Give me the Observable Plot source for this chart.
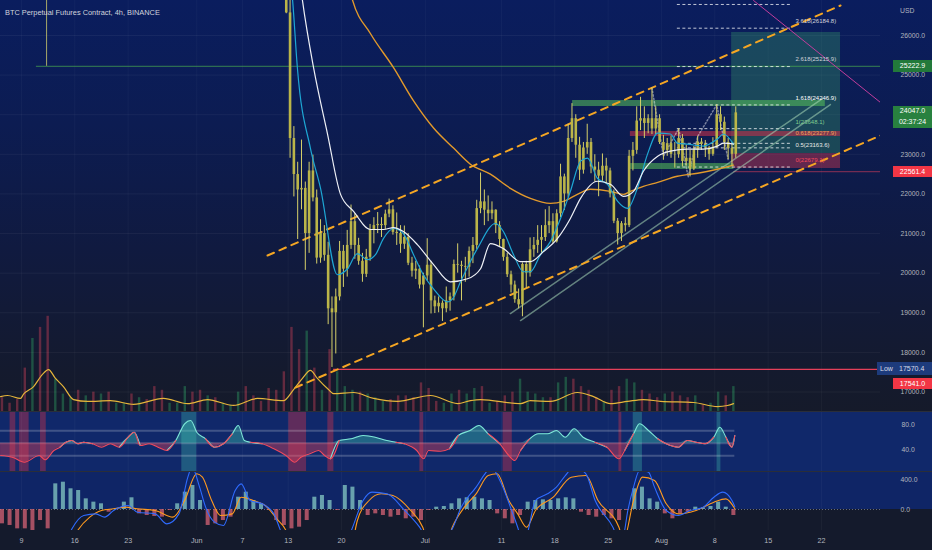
<!DOCTYPE html>
<html>
<head>
<meta charset="utf-8">
<script src="https://cdn.jsdelivr.net/npm/d3@7"></script>
<script src="https://cdn.jsdelivr.net/npm/@observablehq/plot@0.6"></script>
<style>
  body { margin: 0; background: #131722; }
  #chart { position: relative; width: 932px; height: 550px; overflow: hidden; background: #131722;
    font-family: "Liberation Sans", Arial, sans-serif; }
</style>
</head>
<body>
<div id="chart"></div>
<script>
// time axis
const T = s => new Date(`2022-${s}:00Z`);
const xDomain = [new Date("2022-05-06T05:51Z"), new Date("2022-08-29T17:53Z")];
const tickDates = ["05-09T00","05-16T00","05-23T00","06-01T00","06-07T00","06-13T00","06-20T00","07-01T00","07-11T00","07-18T00","07-25T00","08-01T00","08-08T00","08-15T00","08-22T00"];
const tickLabels = ["9","16","23","Jun","7","13","20","Jul","11","18","25","Aug","8","15","22"];
const priceTicks = [17000, 18000, 19000, 20000, 21000, 22000, 23000, 24000, 25000, 26000];

// 12h candles from 2022-06-12 12:00 UTC
const candleStart = new Date("2022-06-12T12:00Z");
const firstOpen = 27400;
const candleHigh = [27700, 26900,23700, 22800,23360, 22300,22800, 22980,22100, 21350,21200, 20780,19400, 19600,20800,
  20700,21080, 21720,21500, 20880,20500, 20600,21230, 21400,21530, 21400,21590, 21870,21700, 21520,21200, 21190,21000,
  20400,20300, 20180,20000,
  20870,20300, 19420,19400, 19300,19650, 19500,20330, 20740,20300, 20400,20660, 20900,21840, 22530,22100, 21950,21800,
  21600,21300, 20860,20500, 20050,19800, 19600,20260, 20300,20890, 20900,21200, 21200,21600, 21680,21500, 21600,22750,
  22500,23760, 24280,24000, 23430,23300, 23760,23400, 22990,22800, 23010,22900, 22650,22100, 21380,21300, 21400,23100,
  23300,24200, 24440,24200, 24000,24680, 24200,24000,
  23480,23400, 23460,23300, 23650,23500, 23230,23100, 23200,23450, 23400,23350, 23200,23420, 24250,24200, 23940,23400,
  23300,24200];
const candleLow = [26550, 22900,21925, 20850,21600, 20070,20500, 21800,20230, 20250,20300, 18700,17620, 17960,19300,
  19640,19900, 20600,20350, 20200,19770, 19890,20300, 20740,21000, 20900,21100, 21400,20960, 20700,20500, 20600,20190,
  19900,19840, 19600,18620,
  19800,18970, 18980,19000, 18780,19000, 19040,19300, 20000,19300, 19770,19900, 20240,20600, 21500,21200, 21300,21350,
  21000,20650, 20300,19890, 19500,19240, 19100,18900, 19620,19900, 20400,20500, 20480,20800, 21000,20750, 20760,21400,
  21580,21900, 23300,22900, 22340,22500, 23000,22510, 22300,21930, 22300,22250, 21900,21250, 20710,20800, 21040,21150,
  22580,23000, 23600,23400, 23520,23500, 23500,23250,
  22850,22950, 22900,22650, 22900,22680, 22700,22430, 22590,22900, 23100,22920, 22850,22950, 23150,23600, 23100,22870,
  22700,22900];
const candleClose = [26570, 23400,22490, 22100,22140, 21000,22580, 21900,20380, 21000,20450, 19100,19000, 19400,20550,
  20100,20700, 21300,20700, 20300,19970, 20400,21090, 21200,21230, 21200,21490, 21600,21030, 21000,20730, 20900,20250,
  20050,20100, 19700,19930,
  20200,19300, 19150,19240, 19100,19300, 19400,20220, 20200,20170, 20150,20550, 20700,21630, 21800,21590, 21500,21590,
  21200,20850, 20400,19960, 19700,19330, 19200,20220, 20000,20590, 20700,20830, 20900,21200, 21300,20790, 21500,22430,
  22000,23400, 23900,23230, 22600,23160, 23300,22680, 22600,22450, 22700,22580, 22000,21310, 21000,21250, 21200,22950,
  23100,23840, 23900,23780, 23900,23640, 23900,23300,
  23100,23270, 23000,22990, 23400,22820, 22900,22630, 23100,23310, 23250,23170, 23000,23180, 24000,23810, 23300,23150,
  23000,24047];

// moving averages
const whiteT = ["06-14T05","06-14T21","06-16T08","06-18T04","06-19T21","06-21T14","06-23T19","06-25T12","06-26T20","06-28T03",
  "06-29T23","07-02T02","07-04T07","07-06T13","07-08T06","07-09T13","07-11T06","07-13T12","07-14T19","07-16T12","07-18T08",
  "07-20T01","07-21T09","07-23T14","07-25T07","07-27T00","07-28T08","07-29T15","07-31T12","08-02T04","08-04T10","08-06T12",
  "08-08T08","08-09T03","08-10T11"];
const whiteV = [27900, 26888, 25188, 23513, 21990, 21558, 21102, 21102, 21152, 21051,
  20721, 20214, 19782, 19858, 20112, 20746, 20620, 20290, 20290, 20543, 20873,
  21381, 21888, 22320, 22244, 21939, 22066, 22574, 22954, 23081, 23132, 23132,
  23208, 23284, 23259];
const cyanT = ["06-13T01","06-13T14","06-14T05","06-15T22","06-17T06","06-19T11","06-20T19","06-22T02","06-23T10","06-24T11",
  "06-25T12","06-26T20","06-28T03","06-29T11","06-30T18","07-02T02","07-03T22","07-04T14","07-05T15","07-07T20","07-10T05",
  "07-11T06","07-12T14","07-13T21","07-14T19","07-16T03","07-17T10","07-18T18","07-20T01","07-21T09","07-22T07","07-23T14",
  "07-24T22","07-26T06","07-27T13","07-28T20","07-30T04","07-31T12","08-02T04","08-03T02","08-04T10","08-06T12","08-08T08",
  "08-09T03","08-10T11"];
const cyanV = [27900, 26888, 25188, 23157, 22142, 19960, 20112, 20493, 20340, 20467,
  20873, 21127, 21000, 20467, 19960, 19604, 19274, 19350, 19782, 20620, 21254,
  21051, 20467, 20036, 20036, 20467, 20797, 21381, 22066, 22828, 22904, 22396,
  22244, 21812, 21635, 22142, 23005, 23538, 23513, 23284, 23259, 23208, 23386,
  23513, 23259];
const orangeT = ["06-20T12","06-21T11","06-23T19","06-26T20","06-29T11","07-02T02","07-04T17","07-06T22","07-09T13","07-12T04",
  "07-14T19","07-17T10","07-19T03","07-20T23","07-22T16","07-25T07","07-27T00","07-27T22","07-29T15","07-31T12","08-03T02",
  "08-05T18","08-08T08","08-10T11"];
const orangeV = [27650, 26888, 26051, 25188, 24350, 23665, 23157, 22751, 22498, 22142,
  21888, 21762, 21812, 21990, 22117, 22066, 21990, 22066, 22193, 22294, 22447,
  22523, 22624, 22726];

// drawings
const upperChannel = {t: ["06-10T07", "08-24T12"], p: [20445, 26758]};
const lowerChannel = {t: ["06-13T23", "08-29T18"], p: [17112, 23475]};
const magentaLine = {t: ["08-13T02", "08-29T18"], p: [26884, 24308]};
const trendA = {t: ["07-12T04", "08-22T03"], p: [18981, 24409]};
const trendB = {t: ["07-13T12", "08-23T04"], p: [18804, 24258]};
const zigzagT = ["07-30T18", "08-01T06", "08-03T06", "08-04T12", "08-05T18", "08-08T06", "08-09T18"];
const zigzagP = [24680, 22950, 23650, 22430, 23450, 24250, 22870];
const fibPrices = [22679.1, 23163.6, 23277.9, 23648.1, 24246.9, 25215.9, 26184.8, 26783.8];
const fibLabels = ["0(22679.1)", "0.5(23163.6)", "0.618(23277.9)", "1(23648.1)", "1.618(24246.9)", "2.618(25215.9)", "3.618(26184.8)", ""];
const fibColors = ["#f2495c", "#e8e8e8", "#f0a35a", "#7fcf8f", "#ffffff", "#d0d3dc", "#d0d3dc", "#d0d3dc"];
const lowPrice = 17570.4;
const hLine = 25222.9;
const stopLine = 22561.4;
const lastPrice = 24047.0;
const countdown = "02:37:24";
const zoneT1 = ["07-20T08", "07-27T22", "07-27T22"];
const zoneT2 = ["08-22T12", "08-24T12", "08-10T12"];
const zoneLow = [24207, 23450, 22617];
const zoneHigh = [24359, 23576, 22768];
const zoneKind = ["green", "red", "green"];
const posBox = {t1: "08-10T05", t2: "08-24T12", target: 26076, entry: 23020, stop: 22642};

// volume (daily, from May 6) and its average
const volStart = new Date("2022-05-06T00:00Z");
const volume = [40,25,35,120,200,230,260,90,50,40,60,45,55,50,55,25,25,50,40,35,70,60,25,25,70,55,
  60,45,40,25,20,55,70,45,30,65,60,110,230,170,220,120,60,170,110,70,60,55,50,40,30,35,45,45,40,80,
  65,30,25,50,60,50,65,70,25,30,45,55,90,55,50,40,40,80,95,90,70,60,40,30,60,70,90,80,60,50,40,
  50,55,45,40,45,20,25,55,45,70];
const volDir = ["d","d","d","d","u","d","d","u","u","u","d","u","d","u","d","u","u","d","u","d","d","d","u","u","u","d",
  "d","u","d","u","u","u","d","d","d","d","d","d","d","d","u","d","u","d","u","u","u","d","u","u","u","d","d","d","d","d",
  "d","d","u","u","d","u","u","d","u","d","d","d","u","u","u","u","d","u","u","d","d","d","d","u","d","d","u","u","d","d","d",
  "u","d","d","d","u","d","u","u","d","u"];
const volMaT = ["05-06T06","05-07T04","05-08T21","05-09T06","05-10T14","05-11T18","05-12T13","05-13T11","05-14T12","05-15T20",
  "05-17T16","05-20T16","05-23T17","05-27T15","05-30T19","06-02T10","06-05T20","06-08T23","06-12T09","06-13T17","06-14T21",
  "06-15T22","06-16T20","06-18T07","06-18T23","06-21T14","06-24T05","06-27T08","07-01T16","07-05T06","07-06T22","07-08T06",
  "07-13T12","07-14T19","07-17T10","07-20T23","07-23T02","07-25T07","07-27T13","07-29T15","07-31T21","08-05T05","08-08T08",
  "08-09T16","08-10T11"];
const volMaV = [43,46,38,49,70,103,116,92,70,35,30,32,22,38,24,35,19,38,32,62,92,114,92,62,51,54,38,30,46,24,32,35,
  24,32,30,54,43,24,30,35,30,27,16,19,24];

// RSI pane
const rsiT = ["05-06T06","05-07T19","05-09T09","05-11T08","05-12T02","05-13T06","05-14T01","05-14T20","05-15T15","05-16T09",
  "05-17T04","05-18T08","05-19T12","05-20T16","05-21T20","05-23T00","05-23T19","05-24T14","05-25T18","05-26T22","05-28T02",
  "05-29T06","05-30T10","05-31T05","06-01T00","06-02T04","06-03T08","06-04T12","06-05T16","06-06T11","06-07T06","06-08T00",
  "06-09T14","06-11T03","06-12T17","06-13T21","06-14T16","06-15T20","06-17T00","06-17T19","06-18T13","06-19T17","06-21T07",
  "06-22T20","06-24T10","06-25T23","06-27T03","06-28T07","06-29T21","06-30T19","07-01T10","07-03T00","07-04T04","07-05T08",
  "07-06T21","07-08T01","07-09T06","07-10T19","07-11T23","07-12T18","07-13T12","07-14T17","07-15T21","07-17T01","07-18T05",
  "07-19T09","07-20T13","07-21T17","07-23T06","07-24T20","07-26T10","07-27T04","07-28T08","07-29T03","07-30T07","07-31T12",
  "08-01T15","08-03T05","08-04T09","08-05T13","08-06T17","08-07T21","08-08T16","08-09T11","08-10T06","08-10T15"];
const rsiV = [30.4,27.7,19.7,30.4,23.5,38.4,43.7,51.7,54.4,49.1,51.7,49.1,43.7,49.1,43.7,59.7,67.7,46.4,49.1,43.7,38.4,
  54.4,81.1,86.4,67.7,57.1,43.7,49.1,65.1,78.4,54.4,51.7,49.1,41.1,30.4,19.7,27.7,33.1,38.4,30.4,25.1,54.4,57.1,
  62.4,59.7,54.4,51.7,49.1,38.4,25.1,38.4,37.3,41.1,62.4,70.4,78.4,65.1,49.1,30.4,22.4,38.4,57.1,65.1,65.1,70.4,
  59.7,73.1,59.7,51.7,43.7,25.1,38.4,65.1,81.1,70.4,57.1,49.1,43.7,54.4,51.7,49.1,59.7,75.7,59.7,43.7,62.4];
const rsiBandT1 = ["05-07T12","05-08T18","05-11T12","05-30T01","06-13T02","06-18T05","06-30T07","07-11T05","07-26T10","07-28T07","08-08T07"];
const rsiBandT2 = ["05-08T06","05-10T00","05-12T06","06-01T00","06-15T10","06-19T00","06-30T19","07-12T10","07-26T19","07-29T12","08-08T19"];
const rsiBandKind = ["red","red","red","teal","red","red","red","red","red","teal","teal"];
const rsiLevels = [70, 50, 30];

// MACD pane
const histStart = new Date("2022-05-06T00:00Z");
const macdHist = [-191,-213,-258,-258,-280,-147,-258,342,364,276,253,142,98,76,-36,9,98,156,-58,-80,-93,-102,-13,76,231,320,
  120,-213,-191,-147,-102,164,231,120,76,-13,-147,-213,-258,-236,-147,164,187,120,-13,320,298,120,-80,-58,-80,-102,-80,-124,-102,-147,
  -13,31,40,76,142,156,164,142,120,-58,-124,-191,-80,98,120,129,120,142,156,142,-36,-80,-102,-80,-124,-147,-13,276,298,142,98,
  -58,-124,-58,-36,31,22,40,98,31,-80];
const macdT = ["05-14T12","05-15T15","05-17T04","05-18T18","05-19T22","05-21T02","05-23T00","05-24T05","05-26T13","05-28T02",
  "05-29T16","05-30T20","05-31T09","06-01T09","06-02T04","06-03T08","06-04T12","06-06T01","06-06T20","06-08T00","06-09T14",
  "06-11T03","06-11T22","06-12T17","06-15T00","06-19T00","06-21T07","06-22T20","06-24T00","06-25T23","06-28T07","06-30T06",
  "07-01T10","07-03T00","07-04T13","07-05T17","07-07T16","07-08T20","07-09T15","07-10T19","07-12T08","07-13T03","07-13T17",
  "07-14T07","07-15T11","07-17T01","07-18T05","07-19T09","07-20T13","07-22T02","07-23T07","07-25T15","07-26T10","07-27T00",
  "07-27T14","07-28T08","07-29T03","07-30T07","07-31T02","08-01T15","08-03T05","08-04T18","08-06T08","08-07T21","08-09T01",
  "08-10T06","08-10T15"];
const macdV = [-520,-258,-80,-58,-102,-13,53,-36,-58,-191,-58,431,564,298,31,-169,-213,253,342,120,76,
  -58,-258,-458,-900,-700,-280,120,231,209,-13,-236,-413,-413,-258,31,298,476,564,387,-13,-236,-413,
  -350,120,209,298,453,564,476,120,-236,-413,-350,-13,298,520,498,298,-13,-80,-13,22,164,231,120,40];
const signalT = ["05-15T05","05-16T09","05-17T23","05-19T12","05-21T02","05-22T15","05-24T05","05-26T13","05-28T21","05-30T10",
  "06-01T00","06-01T18","06-02T23","06-04T03","06-05T16","06-06T20","06-08T10","06-10T00","06-11T12","06-12T17","06-13T12",
  "06-18T00","06-21T07","06-22T02","06-23T15","06-25T05","06-26T18","06-29T02","06-30T16","07-01T10","07-03T18","07-04T13",
  "07-06T03","07-07T16","07-09T06","07-10T10","07-11T23","07-13T03","07-14T07","07-15T11","07-17T19","07-20T04","07-22T02",
  "07-23T16","07-26T10","07-27T00","07-28T08","07-29T12","07-31T02","08-01T15","08-03T05","08-05T13","08-07T21","08-09T11",
  "08-10T15"];
const signalV = [-502,-280,-102,-13,9,31,9,-13,-102,120,476,431,120,-80,-58,164,120,53,-124,-280,-502,
  -900,-502,-147,120,209,187,-13,-236,-458,-458,-236,31,209,453,476,120,-58,-236,-13,164,431,453,
  120,-236,-413,120,431,387,76,-58,-13,98,142,9];

// ---------- layout ----------
const W = 932, MR = 52, FONT = "Liberation Sans, Arial, sans-serif";
const chart = document.getElementById("chart");
const HOUR = 3600e3, DAY = 24 * HOUR;
const tickTimes = tickDates.map(T);
const labelOf = new Map(tickTimes.map((t, i) => [+t, tickLabels[i]]));
const endT = T("08-10T15");
const fmt = d3.format(".1f");

function addDiv(css, html = "") {
  const d = document.createElement("div");
  d.style.cssText = "position:absolute;" + css;
  d.innerHTML = html;
  chart.appendChild(d);
  return d;
}
function addPlot(top, svg) {
  const wrap = addDiv(`left:0;top:${top}px;width:${W}px;`);
  wrap.appendChild(svg);
}
const baseStyle = {background: "transparent", color: "#b2b5be", fontFamily: FONT, overflow: "visible"};

// pane backgrounds
addDiv("left:0;top:0;width:932px;height:412px;background:linear-gradient(180deg,#0a1d5e 0%,#0c1c52 30%,#101a40 60%,#141a2e 90%,#151a2a 100%);");
addDiv("left:0;top:412px;width:932px;height:60px;background:#10286a;");
addDiv("left:0;top:472px;width:932px;height:37px;background:#0f2566;");
addDiv("left:0;top:509px;width:932px;height:41px;background:#141a2c;");

// data tables
const candles = candleHigh.map((h, i) => ({
  t: new Date(+candleStart + i * 12 * HOUR + 6 * HOUR),
  o: i ? candleClose[i - 1] : firstOpen, h, l: candleLow[i], c: candleClose[i]
}));
const series = (ts, vs) => ts.map((t, i) => ({t: T(t), v: vs[i]}));
const white = series(whiteT, whiteV), cyan = series(cyanT, cyanV), orange = series(orangeT, orangeV);
const seg = o => o.t.map((t, i) => ({t: T(t), p: o.p[i]}));
const fibs = fibPrices.map((p, i) => ({p, label: fibLabels[i], color: fibColors[i]}));
const zones = zoneT1.map((t, i) => ({t1: T(t), t2: T(zoneT2[i]), p1: zoneLow[i], p2: zoneHigh[i], kind: zoneKind[i]}));
const xs = {type: "utc", domain: xDomain, axis: null};

// ---------- volume (overlay at the bottom of the price pane) ----------
const vols = volume.map((v, i) => ({t1: new Date(+volStart + i * DAY), t2: new Date(+volStart + (i + 1) * DAY), v, dir: volDir[i]}));
const volPlot = Plot.plot({
  width: W, height: 111, marginTop: 0, marginBottom: 0, marginLeft: 0, marginRight: MR,
  style: baseStyle, x: xs, y: {domain: [0, 300], axis: null},
  marks: [
    Plot.rectY(vols.filter(d => d.dir === "u"), {x1: "t1", x2: "t2", y: "v", fill: "#2a8a5a", fillOpacity: 0.5, insetLeft: 2.6, insetRight: 2.6, clip: true}),
    Plot.rectY(vols.filter(d => d.dir === "d"), {x1: "t1", x2: "t2", y: "v", fill: "#b23a52", fillOpacity: 0.5, insetLeft: 2.6, insetRight: 2.6, clip: true}),
    Plot.line(series(volMaT, volMaV), {x: "t", y: "v", stroke: "#e6b53a", strokeWidth: 1.2, curve: "monotone-x", clip: true})
  ]
});
addPlot(301, volPlot);

// ---------- price pane ----------
const fibText = (filter, dy) => Plot.text(fibs.filter(filter), {x: () => T("08-18T14"), y: "p", text: "label", fill: "color", fontSize: 6, textAnchor: "start", dy});
const mainPlot = Plot.plot({
  width: W, height: 412, marginTop: 0, marginBottom: 0, marginLeft: 0, marginRight: MR,
  style: baseStyle, x: xs, y: {domain: [16482, 26884]}, color: {type: "identity"},
  marks: [
    Plot.ruleY(priceTicks, {stroke: "#ffffff", strokeOpacity: 0.05}),
    Plot.ruleX(tickTimes, {stroke: "#ffffff", strokeOpacity: 0.035}),
    Plot.axisY({anchor: "right", ticks: priceTicks.filter(p => p !== 24000), tickSize: 0, tickPadding: 20, tickFormat: fmt, fontSize: 6.8, label: null}),
    // long-position tool
    Plot.rect([posBox], {x1: d => T(d.t1), x2: d => T(d.t2), y1: "entry", y2: "target", fill: "#3aa56a", fillOpacity: 0.32, clip: true}),
    Plot.rect([posBox], {x1: d => T(d.t1), x2: d => T(d.t2), y1: "stop", y2: "entry", fill: "#b8334f", fillOpacity: 0.5, clip: true}),
    // zones
    Plot.rect(zones.filter(d => d.kind === "green"), {x1: "t1", x2: "t2", y1: "p1", y2: "p2", fill: "#58c25a", fillOpacity: 0.55, clip: true}),
    Plot.rect(zones.filter(d => d.kind === "red"), {x1: "t1", x2: "t2", y1: "p1", y2: "p2", fill: "#c23049", fillOpacity: 0.6, clip: true}),
    // horizontal levels
    Plot.ruleY([hLine], {x1: () => T("05-10T23"), x2: () => xDomain[1], stroke: "#4caf50", strokeOpacity: 0.7}),
    Plot.ruleX([T("05-12T07")], {y1: hLine, y2: 26884, stroke: "#b8b86a", strokeOpacity: 0.9}),
    Plot.ruleY([lowPrice], {x1: () => T("06-18T23"), x2: () => xDomain[1], stroke: "#e5405a", strokeWidth: 1.2}),
    Plot.ruleY([stopLine], {x1: () => T("08-10T12"), x2: () => xDomain[1], stroke: "#e5405a", strokeOpacity: 0.6}),
    // fib levels
    Plot.ruleY(fibs, {y: "p", x1: () => T("08-03T02"), x2: () => T("08-17T22"), stroke: "#ffffff", strokeOpacity: 0.75, strokeDasharray: "3,2.5", clip: true}),
    // trend drawings
    Plot.line(seg(trendA), {x: "t", y: "p", stroke: "#a8d8b8", strokeOpacity: 0.55, clip: true}),
    Plot.line(seg(trendB), {x: "t", y: "p", stroke: "#a8d8b8", strokeOpacity: 0.55, clip: true}),
    Plot.line(zigzagT.map((t, i) => ({t: T(t), p: zigzagP[i]})), {x: "t", y: "p", stroke: "#ffffff", strokeOpacity: 0.45, strokeDasharray: "1.5,2", clip: true}),
    Plot.line(seg(magentaLine), {x: "t", y: "p", stroke: "#c13d9c", strokeWidth: 1, clip: true}),
    Plot.line(seg(upperChannel), {x: "t", y: "p", stroke: "#f5a623", strokeWidth: 2, strokeDasharray: "7,6", clip: true}),
    Plot.line(seg(lowerChannel), {x: "t", y: "p", stroke: "#f5a623", strokeWidth: 2, strokeDasharray: "7,6", clip: true}),
    // averages and candles
    Plot.line(orange, {x: "t", y: "v", stroke: "#e39a2b", strokeWidth: 1.4, curve: "monotone-x", clip: true}),
    Plot.ruleX(candles, {x: "t", y1: "l", y2: "h", stroke: "#d6d06a", strokeWidth: 1, clip: true}),
    Plot.ruleX(candles, {x: "t", y1: "o", y2: "c", stroke: "#bbb549", strokeWidth: 2.6, clip: true}),
    Plot.line(cyan, {x: "t", y: "v", stroke: "#1ea7d4", strokeWidth: 1.2, curve: "monotone-x", clip: true}),
    Plot.line(white, {x: "t", y: "v", stroke: "#eef0f6", strokeWidth: 1.2, curve: "monotone-x", clip: true}),
    // fib labels
    fibText(d => d.label && !d.label.startsWith("0.618") && !d.label.startsWith("0.5"), -7),
    fibText(d => d.label.startsWith("0.618"), -10),
    fibText(d => d.label.startsWith("0.5"), -3)
  ]
});
addPlot(0, mainPlot);

// ---------- RSI pane ----------
const rsi = series(rsiT, rsiV);
const rsiBands = rsiBandT1.map((t, i) => ({t1: T(t), t2: T(rsiBandT2[i]), kind: rsiBandKind[i]}));
const near50 = (i, up) => [i - 1, i, i + 1].some(j => rsi[j] && (up ? rsi[j].v >= 50 : rsi[j].v <= 50));
const rsiPlot = Plot.plot({
  width: W, height: 60, marginTop: 0, marginBottom: 0, marginLeft: 0, marginRight: MR,
  style: baseStyle, x: xs, y: {domain: [3.2, 99.2]},
  marks: [
    Plot.rect(rsiBands.filter(d => d.kind === "red"), {x1: "t1", x2: "t2", fill: "#c2304c", fillOpacity: 0.45, clip: true}),
    Plot.rect(rsiBands.filter(d => d.kind === "teal"), {x1: "t1", x2: "t2", fill: "#3fb8a8", fillOpacity: 0.35, clip: true}),
    Plot.ruleX(tickTimes, {stroke: "#ffffff", strokeOpacity: 0.04}),
    Plot.ruleY(rsiLevels, {x1: () => xDomain[0], x2: () => endT, stroke: "#ffffff", strokeOpacity: 0.2, strokeWidth: 2}),
    Plot.areaY(rsi, {x: "t", y1: () => 50, y2: d => Math.max(d.v, 50), fill: "#3cc0b0", fillOpacity: 0.4, curve: "monotone-x", clip: true}),
    Plot.areaY(rsi, {x: "t", y1: d => Math.min(d.v, 50), y2: () => 50, fill: "#e5405a", fillOpacity: 0.4, curve: "monotone-x", clip: true}),
    Plot.lineY(rsi, {x: "t", y: (d, i) => near50(i, true) ? d.v : NaN, stroke: "#7fe6d8", strokeWidth: 1.1, curve: "monotone-x", clip: true}),
    Plot.lineY(rsi, {x: "t", y: (d, i) => near50(i, false) ? d.v : NaN, stroke: "#f2495c", strokeWidth: 1.1, curve: "monotone-x", clip: true}),
    Plot.axisY({anchor: "right", ticks: [80, 40], tickSize: 0, tickPadding: 21, tickFormat: fmt, fontSize: 6.8, label: null})
  ]
});
addPlot(412, rsiPlot);

// ---------- MACD pane ----------
const hist = macdHist.map((v, i) => ({t1: new Date(+histStart + i * DAY), t2: new Date(+histStart + (i + 1) * DAY), v}));
const macdPlot = Plot.plot({
  width: W, height: 78, marginTop: 0, marginBottom: 20, marginLeft: 0, marginRight: MR,
  style: baseStyle, x: xs, y: {domain: [-280, 493.3]},
  marks: [
    Plot.ruleX(tickTimes, {stroke: "#ffffff", strokeOpacity: 0.04}),
    Plot.ruleY([0], {stroke: "#8a90a0", strokeOpacity: 0.7, strokeDasharray: "1,2"}),
    Plot.rectY(hist.filter(d => d.v >= 0), {x1: "t1", x2: "t2", y: "v", fill: "#8fd6cc", fillOpacity: 0.7, insetLeft: 1.8, insetRight: 1.8, clip: true}),
    Plot.rectY(hist.filter(d => d.v < 0), {x1: "t1", x2: "t2", y: "v", fill: "#e2687a", fillOpacity: 0.7, insetLeft: 1.8, insetRight: 1.8, clip: true}),
    Plot.line(series(signalT, signalV), {x: "t", y: "v", stroke: "#ff9a1f", strokeWidth: 1.1, curve: "monotone-x", clip: true}),
    Plot.line(series(macdT, macdV), {x: "t", y: "v", stroke: "#2f6bff", strokeWidth: 1.1, curve: "monotone-x", clip: true}),
    Plot.axisY({anchor: "right", ticks: [400, 0], tickSize: 0, tickPadding: 20, tickFormat: fmt, fontSize: 6.8, label: null}),
    Plot.axisX({ticks: tickTimes, tickFormat: d => labelOf.get(+d), tickSize: 0, tickPadding: 7, fontSize: 7.2, label: null})
  ]
});
addPlot(472, macdPlot);

// pane separators
addDiv("left:0;top:411px;width:932px;height:1px;background:#2a2e39;");
addDiv("left:0;top:471px;width:932px;height:1px;background:#2a2e39;");

// ---------- title and price tags ----------
const ys = v => mainPlot.scale("y").apply(v);
addDiv("left:5px;top:8px;color:#d1d4dc;font-size:7.4px;white-space:nowrap;", "BTC Perpetual Futures Contract, 4h, BINANCE");
addDiv("left:900px;top:7px;color:#b2b5be;font-size:6.8px;", "USD");
function tag(y, h, bg, html) {
  addDiv(`left:893px;top:${(y - h / 2).toFixed(1)}px;width:39px;height:${h}px;background:${bg};color:#fff;font-size:7px;text-align:center;line-height:${h}px;`, html);
}
tag(ys(hLine), 12, "#22793a", fmt(hLine));
addDiv(`left:893px;top:${(ys(lastPrice) - 6).toFixed(1)}px;width:39px;height:22px;background:#28813f;color:#fff;font-size:7px;text-align:center;line-height:10.5px;`,
  fmt(lastPrice) + "<br>" + countdown);
tag(ys(stopLine), 11, "#f23645", fmt(stopLine));
addDiv(`left:877px;top:${(ys(lowPrice) - 6.5).toFixed(1)}px;width:55px;height:13px;background:#1d3b7c;color:#d9dde8;font-size:7px;line-height:13px;white-space:nowrap;`,
  `<span style="margin-left:3px">Low</span><span style="position:absolute;left:22px">${fmt(lowPrice)}</span>`);
tag(ys(17541) + 13, 11, "#f23645", fmt(17541));
</script>
</body>
</html>
